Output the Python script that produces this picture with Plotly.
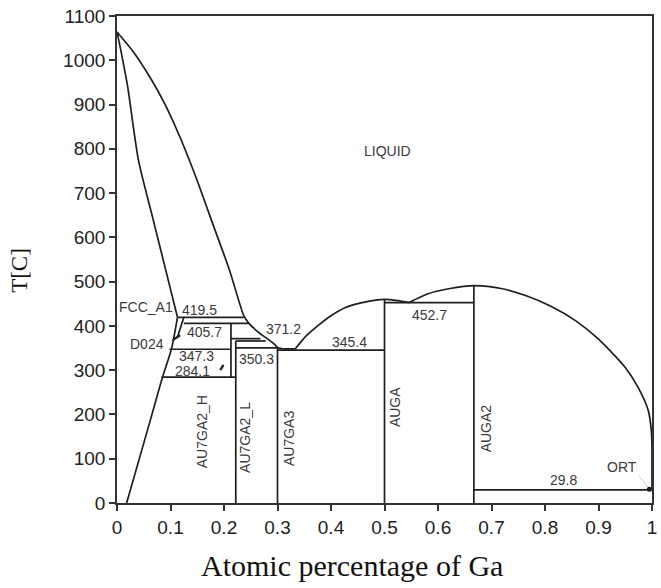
import plotly.graph_objects as go

# Au-Ga phase diagram: composition (mole fraction Ga) vs temperature (C)

# Liquidus, Au-rich side down to the eutectic
liq_au_x = [0.0, 0.03, 0.06, 0.09, 0.12, 0.15, 0.18, 0.21, 0.237, 0.245, 0.261, 0.293, 0.302, 0.333]
liq_au_y = [1064, 1020, 965, 900, 820, 728, 627, 527, 423, 408, 389, 360, 350, 348]
# Liquidus rising to AuGa, dip at the 452.7 eutectic, AuGa2 dome falling to pure Ga
liq_ga_x = [0.333, 0.354, 0.375, 0.4, 0.426, 0.456, 0.487, 0.5, 0.525, 0.546]
liq_ga_y = [348, 378, 400, 423, 441, 452, 459, 460, 457, 452.7]
dome_x = [0.546, 0.58, 0.62, 0.669, 0.72, 0.765, 0.81, 0.857, 0.9, 0.95, 0.974, 0.993, 0.999, 1.0]
dome_y = [452.7, 472, 484, 491, 484, 468, 445, 412, 370, 306, 261, 209, 160, 120]
# Solidus and solvus of FCC_A1
sol_x = [0.0, 0.01, 0.02, 0.04, 0.067, 0.093, 0.113]
sol_y = [1064, 1005, 940, 775, 643, 517, 419.5]
solvus_x = [0.113, 0.102, 0.085, 0.063, 0.018]
solvus_y = [419.5, 349, 284.1, 190, 0]
# D024 band
d024_x = [0.125, 0.113]
d024_y = [419.5, 375]
d024_tie_x = [0.104, 0.118]
d024_tie_y = [368, 379]

# Invariant (horizontal) lines: x start, x end, temperature
inv_x0 = [0.113, 0.125, 0.098, 0.083, 0.213, 0.222, 0.222, 0.30, 0.5, 0.667]
inv_x1 = [0.237, 0.246, 0.213, 0.222, 0.268, 0.278, 0.30, 0.5, 0.667, 1.0]
inv_t = [419.5, 405.7, 347.3, 284.1, 371.2, 366.0, 350.3, 345.4, 452.7, 29.8]

# Vertical phase boundaries: x, bottom, top
vert_x = [0.213, 0.222, 0.30, 0.5, 0.667, 1.0]
vert_lo = [284.1, 0, 0, 0, 0, 29.8]
vert_hi = [405.7, 366.0, 350.3, 460, 491, 120]

# Value labels on the invariant lines
val_text = ["419.5", "405.7", "347.3", "284.1", "350.3", "371.2", "345.4", "452.7", "29.8"]
val_x = [0.154, 0.163, 0.148, 0.141, 0.261, 0.311, 0.435, 0.585, 0.835]
val_y = [436, 387, 333, 299, 326, 394, 364, 425, 52]

# Phase names
phase_text = ["LIQUID", "FCC_A1", "D024", "ORT"]
phase_x = [0.506, 0.054, 0.056, 0.944]
phase_y = [794, 443, 360, 81]
comp_text = ["AU7GA2_H", "AU7GA2_L", "AU7GA3", "AUGA", "AUGA2"]
comp_x = [0.159, 0.240, 0.322, 0.521, 0.690]
comp_y = [160, 148, 145, 216, 169]

x_ticks = [0, 0.1, 0.2, 0.3, 0.4, 0.5, 0.6, 0.7, 0.8, 0.9, 1]
x_tick_text = ["0", "0.1", "0.2", "0.3", "0.4", "0.5", "0.6", "0.7", "0.8", "0.9", "1"]
y_ticks = list(range(0, 1101, 100))

LINE = dict(color="#1e1e1e", width=1.7)

fig = go.Figure()


def add_line(xs, ys, shape="linear", line=LINE):
    fig.add_trace(go.Scatter(x=xs, y=ys, mode="lines",
                             line=dict(**line, shape=shape, smoothing=0.7 if shape == "spline" else None),
                             hoverinfo="skip", showlegend=False))


add_line(liq_au_x, liq_au_y, "spline")
add_line(liq_ga_x, liq_ga_y, "spline")
add_line(dome_x, dome_y, "spline")
add_line(sol_x, sol_y, "spline")
add_line(solvus_x, solvus_y, "spline")
add_line(d024_x, d024_y)
add_line(d024_tie_x, d024_tie_y, line=dict(color="#1e1e1e", width=2.2))
for x0, x1, t in zip(inv_x0, inv_x1, inv_t):
    add_line([x0, x1], [t, t])
for xv, lo, hi in zip(vert_x, vert_lo, vert_hi):
    add_line([xv, xv], [lo, hi])

# pointer marks near 284.1 and ORT
add_line([0.193, 0.199], [300, 312], line=dict(color="#1e1e1e", width=2.2))
add_line([0.975, 0.995], [62, 33], line=dict(color="#c8c8c8", width=1))
fig.add_trace(go.Scatter(x=[0.995], y=[31], mode="markers",
                         marker=dict(color="#1e1e1e", size=5), hoverinfo="skip", showlegend=False))

LABEL_FONT = dict(family="Liberation Sans, Arial, sans-serif", size=14, color="#3a3a3a")
for t, x, y in zip(val_text, val_x, val_y):
    fig.add_annotation(x=x, y=y, text=t, showarrow=False, font=LABEL_FONT)
for t, x, y in zip(phase_text, phase_x, phase_y):
    fig.add_annotation(x=x, y=y, text=t, showarrow=False, font=LABEL_FONT)
for t, x, y in zip(comp_text, comp_x, comp_y):
    fig.add_annotation(x=x, y=y, text=t, showarrow=False, textangle=-90, font=LABEL_FONT)

# axis titles
fig.add_annotation(xref="paper", yref="paper", x=-0.182, y=0.478, text="T[C]",
                   xanchor="center", yanchor="middle", textangle=-90, showarrow=False,
                   font=dict(family="Liberation Serif, Times New Roman, serif", size=23, color="#111"))
fig.add_annotation(xref="paper", yref="paper", x=0.44, y=-0.128, text="Atomic percentage of Ga",
                   xanchor="center", yanchor="middle", showarrow=False,
                   font=dict(family="Liberation Serif, Times New Roman, serif", size=30, color="#111"))

AX = dict(showgrid=False, zeroline=False, showline=True, mirror=True, linecolor="#333",
          linewidth=1.6, ticks="outside", ticklen=6, tickcolor="#333", tickwidth=1.5,
          tickfont=dict(family="Liberation Sans, Arial, sans-serif", size=19, color="#222"))

fig.update_xaxes(range=[0, 1], tickvals=x_ticks, ticktext=x_tick_text, **AX)
fig.update_yaxes(range=[0, 1100], tickvals=y_ticks, **AX)

fig.update_layout(width=661, height=588, margin=dict(l=117, r=4, t=16, b=85),
                  paper_bgcolor="white", plot_bgcolor="white")

fig.write_html("out.html")
